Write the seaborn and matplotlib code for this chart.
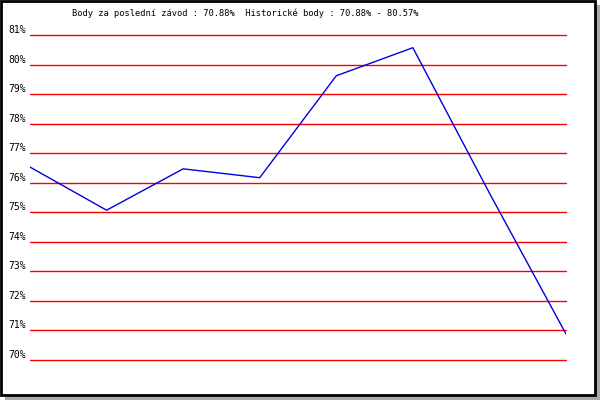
import matplotlib
matplotlib.use("Agg")
import matplotlib.pyplot as plt
import seaborn as sns
from matplotlib.patches import Rectangle

# body v jednotlivých závodech
zavody = [1, 2, 3, 4, 5, 6, 7, 8]
body = [76.53, 75.07, 76.47, 76.17, 79.62, 80.57, 75.65, 70.88]
urovne = [70, 71, 72, 73, 74, 75, 76, 77, 78, 79, 80, 81]
popisky = [f"{u}%" for u in urovne]
titulek = "Body za poslední závod : 70.88%  Historické body : 70.88% - 80.57%"

sns.set_style("white")
plt.rcParams['font.family'] = ['DejaVu Sans Mono', 'DejaVu Sans']
plt.rcParams['text.color'] = 'black'
plt.rcParams['ytick.color'] = 'black'

fig = plt.figure(figsize=(6, 4), dpi=100)
fig.patch.set_facecolor('white')
ax = fig.add_axes([30 / 600, 40 / 400, 536 / 600, 325 / 400])
ax.set_facecolor('none')

# vodorovné čáry
for u in urovne:
    ax.axhline(u, color='red', lw=1.0, clip_on=False, zorder=1)

sns.lineplot(x=zavody, y=body, color='#0000dd', lw=1, ax=ax, zorder=3)

ax.set_xlim(zavody[0], zavody[-1])
ax.set_ylim(urovne[0], urovne[-1])
ax.set_xticks([])
ax.set_yticks(urovne, popisky)
ax.tick_params(axis='y', length=0, pad=3, labelsize=7, labelcolor='black')
for lbl in ax.get_yticklabels():
    lbl.set_va('bottom')
for s in ax.spines.values():
    s.set_visible(False)
ax.set_xlabel('')
ax.set_ylabel('')

fig.text(72 / 600, 1 - 13 / 400, titulek, fontsize=6.3, ha='left', va='center', color='black')

# rámeček se stínem
fig.patches.append(Rectangle((5 / 600, 0), 595 / 600, 4 / 400, transform=fig.transFigure,
                             facecolor='#aaaaaa', edgecolor='none', zorder=0))
fig.patches.append(Rectangle((596 / 600, 0), 4 / 600, 395 / 400, transform=fig.transFigure,
                             facecolor='#aaaaaa', edgecolor='none', zorder=0))
fig.patches.append(Rectangle((1.2 / 600, 5.2 / 400), 593.6 / 600, 393.6 / 400, transform=fig.transFigure,
                             facecolor='none', edgecolor='black', lw=2, zorder=5))

fig.savefig("out.png", dpi=100)
